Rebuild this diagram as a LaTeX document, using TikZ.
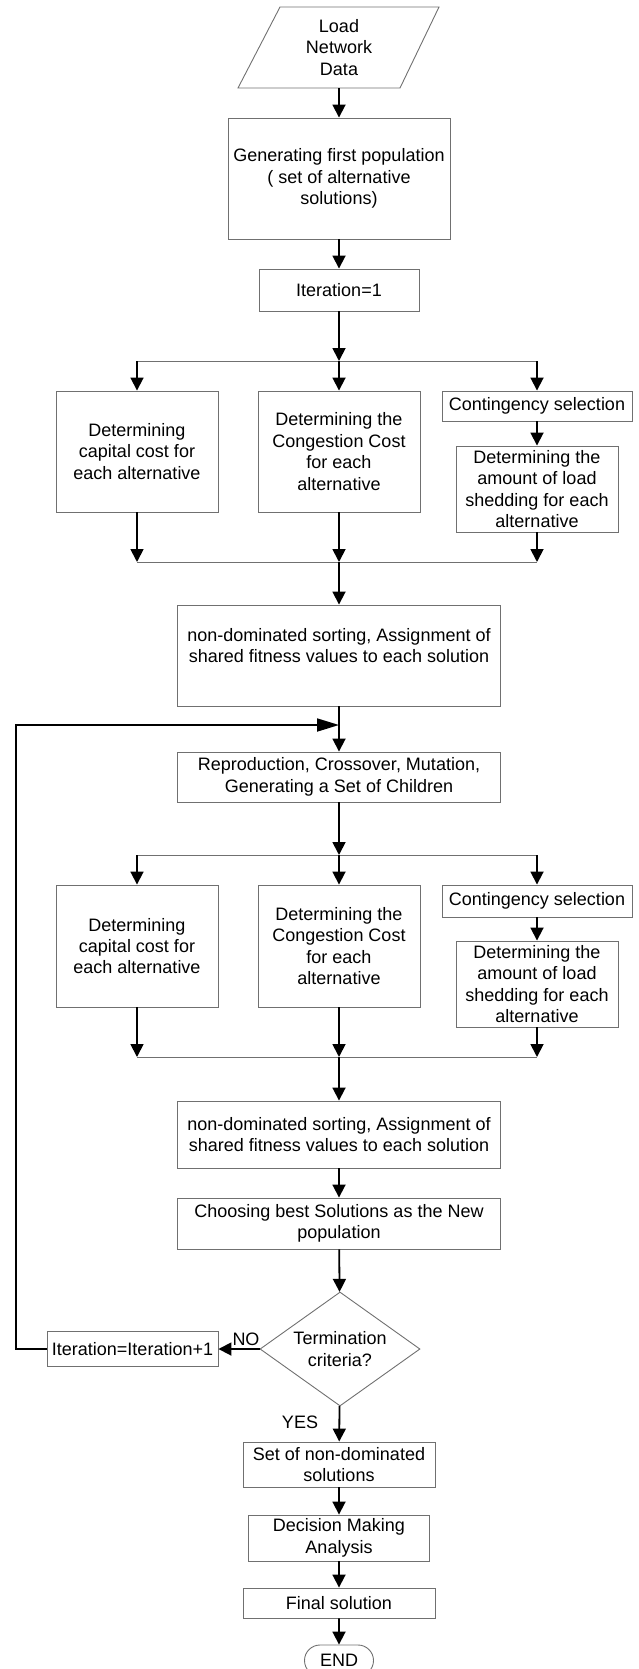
\documentclass[tikz,border=0pt]{standalone}
\usepackage{fontspec}
\setmainfont{Liberation Sans}
\usetikzlibrary{shapes.geometric,shapes.misc,arrows.meta}
\definecolor{BoxGray}{RGB}{112,112,112}
\tikzset{
  txt/.style={align=center,inner sep=1pt,font=\fontsize{18}{21.4}\selectfont},
  blk/.style={txt,rectangle,draw=BoxGray,line width=0.9pt},
  boxline/.style={draw=BoxGray,line width=0.9pt},
  flow/.style={draw=black,line width=1.8pt,-{Triangle[length=13pt,width=13pt]}},
  bus/.style={draw=BoxGray,line width=1pt},
}

\begin{document}
\begin{tikzpicture}[x=1pt,y=-1pt]
\useasboundingbox (0,0) rectangle (639,1669);
\clip (0,0) rectangle (639,1669);

% start
\draw[boxline] (280,7) -- (439,7) -- (400,88) -- (238,88) -- cycle;
\node[txt,minimum height=81] (data) at (339,47.5) {Load\\Network\\Data};
\node[blk,minimum width=222,minimum height=121] (gen) at (339,178.5) {Generating first population\\( set of alternative\\solutions)};
\node[blk,minimum width=160,minimum height=42] (it1) at (339,290) {Iteration=1};

% first evaluation
\node[blk,minimum width=162,minimum height=121] (cap1) at (137,451.5) {Determining\\capital cost for\\each alternative};
\node[blk,minimum width=162,minimum height=121] (cong1) at (339,451.5) {Determining the\\Congestion Cost\\for each\\alternative};
\node[blk,minimum width=190,minimum height=30] (cont1) at (537,406) {Contingency selection};
\node[blk,minimum width=162,minimum height=86] (shed1) at (537,489) {Determining the\\amount of load\\shedding for each\\alternative};
\node[blk,minimum width=323,minimum height=101] (sort1) at (339,655.5) {non-dominated sorting, Assignment of\\shared fitness values to each solution\rule[-20pt]{0pt}{0pt}};

\coordinate (s1) at (339,361);
\coordinate (s1l) at (137,361);
\coordinate (s1r) at (537,361);
\coordinate (m1) at (339,562);
\coordinate (m1l) at (137,562);
\coordinate (m1r) at (537,562);

\draw[flow] (data) -- (gen);
\draw[flow] (gen) -- (it1);
\draw[flow] (it1) -- (s1);
\draw[bus] (s1l) -- (s1r);
\draw[flow] (s1l) -- (cap1);
\draw[flow] (s1) -- (cong1);
\draw[flow] (s1r) -- (cont1);
\draw[flow] (cont1) -- (shed1);
\draw[bus] (m1l) -- (m1r);
\draw[flow] (cap1) -- (m1l);
\draw[flow] (cong1) -- (m1);
\draw[flow] (shed1) -- (m1r);
\draw[flow] (m1) -- (sort1);

% loop body
\node[blk,minimum width=323,minimum height=50] (rep) at (339,777) {Reproduction, Crossover, Mutation,\\Generating a Set of Children};
\node[blk,minimum width=162,minimum height=122] (cap2) at (137,946) {Determining\\capital cost for\\each alternative};
\node[blk,minimum width=162,minimum height=122] (cong2) at (339,946) {Determining the\\Congestion Cost\\for each\\alternative};
\node[blk,minimum width=190,minimum height=32] (cont2) at (537,901) {Contingency selection};
\node[blk,minimum width=162,minimum height=86] (shed2) at (537,984) {Determining the\\amount of load\\shedding for each\\alternative};
\node[blk,minimum width=323,minimum height=67] (sort2) at (339,1134.5) {non-dominated sorting, Assignment of\\shared fitness values to each solution};
\node[blk,minimum width=323,minimum height=51] (choose) at (339,1223.5) {Choosing best Solutions as the New\\population};

\coordinate (j2) at (339,725);
\coordinate (s2) at (339,855);
\coordinate (s2l) at (137,855);
\coordinate (s2r) at (537,855);
\coordinate (m2) at (339,1057);
\coordinate (m2l) at (137,1057);
\coordinate (m2r) at (537,1057);

\draw[flow] (sort1) -- (rep);
\draw[flow] (rep) -- (s2);
\draw[bus] (s2l) -- (s2r);
\draw[flow] (s2l) -- (cap2);
\draw[flow] (s2) -- (cong2);
\draw[flow] (s2r) -- (cont2);
\draw[flow] (cont2) -- (shed2);
\draw[bus] (m2l) -- (m2r);
\draw[flow] (cap2) -- (m2l);
\draw[flow] (cong2) -- (m2);
\draw[flow] (shed2) -- (m2r);
\draw[flow] (m2) -- (sort2);
\draw[flow] (sort2) -- (choose);

% test and exit
\node[txt,diamond,draw=BoxGray,line width=0.9pt,aspect=1.4,inner sep=0pt,minimum width=160,minimum height=114] (term) at (340,1349) {Termination\\criteria?};
\node[blk,minimum width=171,minimum height=35] (inc) at (132.5,1349) {Iteration=Iteration+1};
\node[txt,inner sep=0pt] (no) at (246,1339) {NO};
\node[txt,inner sep=0pt] (yes) at (300,1422) {YES};
\node[blk,minimum width=192,minimum height=45] (nondom) at (339,1464.5) {Set of non-dominated\\solutions};
\node[blk,minimum width=181,minimum height=46] (dec) at (339,1538) {Decision Making\\Analysis};
\node[blk,minimum width=192,minimum height=30] (fin) at (339,1603) {Final solution};
\node[txt,rounded rectangle,draw=BoxGray,line width=0.9pt,minimum width=71,minimum height=31] (stop) at (339,1660.5) {END};

\coordinate (back) at (16,725);

\draw[flow] (choose) -- (term);
\draw[flow] (term) -- (inc);
\draw[flow,-{Triangle[length=22pt,width=13pt]}] (inc.west) -| (back) -- (j2);
\draw[flow] (term) -- (nondom);
\draw[flow] (nondom) -- (dec);
\draw[flow] (dec) -- (fin);
\draw[flow] (fin) -- (stop);
\end{tikzpicture}
\end{document}
